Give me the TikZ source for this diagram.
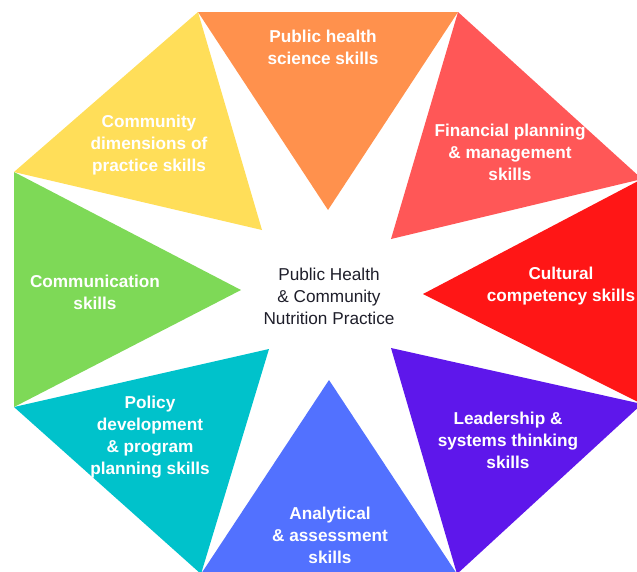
\documentclass[tikz,border=0pt]{standalone}
\usepackage{fontspec}
\setmainfont{Liberation Sans}
\usepackage{xcolor}

\definecolor{pubOrange}{HTML}{FF914D}
\definecolor{commYellow}{HTML}{FFDE59}
\definecolor{finRed}{HTML}{FF5757}
\definecolor{cultRed}{HTML}{FF1616}
\definecolor{commGreen}{HTML}{7ED957}
\definecolor{polTeal}{HTML}{00C2CB}
\definecolor{anaBlue}{HTML}{5271FF}
\definecolor{leadPurple}{HTML}{5E17EB}
\definecolor{hubText}{HTML}{1E1E2A}

\tikzset{
  skill/.style={text=white, align=center, inner sep=0pt,
    font=\bfseries\fontsize{17.2}{22}\selectfont},
  hub/.style={text=hubText, align=center, inner sep=0pt,
    font=\fontsize{17.2}{22}\selectfont}
}

\begin{document}
\begin{tikzpicture}[x=1pt, y=-1pt] % one unit = one pixel of the sketch
    \useasboundingbox (0,0) rectangle (637,571);
    \clip (0,0) rectangle (637,571);

    % Octagon corners
    \coordinate (tl) at (198,12);
    \coordinate (tr) at (458,12);
    \coordinate (rt) at (642,179);
    \coordinate (rb) at (642,404);
    \coordinate (br) at (457,574);
    \coordinate (bl) at (201,574);
    \coordinate (lb) at (14,407);
    \coordinate (lt) at (14,172);

    % Inner tips
    \coordinate (tipN)  at (328,210);
    \coordinate (tipNE) at (391,239);
    \coordinate (tipE)  at (423,294);
    \coordinate (tipSE) at (391,348);
    \coordinate (tipS)  at (329,380);
    \coordinate (tipSW) at (269,349);
    \coordinate (tipW)  at (241,290);
    \coordinate (tipNW) at (262,230);

    % Skill triangles
    \fill[pubOrange]  (tl) -- (tr) -- (tipN)  -- cycle;
    \fill[finRed]     (tr) -- (rt) -- (tipNE) -- cycle;
    \fill[cultRed]    (rt) -- (rb) -- (tipE)  -- cycle;
    \fill[leadPurple] (rb) -- (br) -- (tipSE) -- cycle;
    \fill[anaBlue]    (br) -- (bl) -- (tipS)  -- cycle;
    \fill[polTeal]    (bl) -- (lb) -- (tipSW) -- cycle;
    \fill[commGreen]  (lb) -- (lt) -- (tipW)  -- cycle;
    \fill[commYellow] (lt) -- (tl) -- (tipNW) -- cycle;

    % Labels
    \node[skill] (pubsci) at (323,47)  {Public health\\science skills};
    \node[skill] (fin)    at (510,152) {Financial planning\\\& management\\skills};
    \node[skill] (cult)   at (561,286) {Cultural\\competency skills};
    \node[skill] (lead)   at (508,440) {Leadership \&\\systems thinking\\skills};
    \node[skill] (ana)    at (330,535) {Analytical\\\& assessment\\skills};
    \node[skill] (pol)    at (150,437) {Policy\\development\\\& program\\planning skills};
    \node[skill] (comm)   at (95,292)  {Communication\\skills};
    \node[skill] (commdim) at (149,145) {Community\\dimensions of\\practice skills};

    % Centre
    \node[hub] (practice) at (329,296) {Public Health\\\& Community\\Nutrition Practice};
\end{tikzpicture}
\end{document}
